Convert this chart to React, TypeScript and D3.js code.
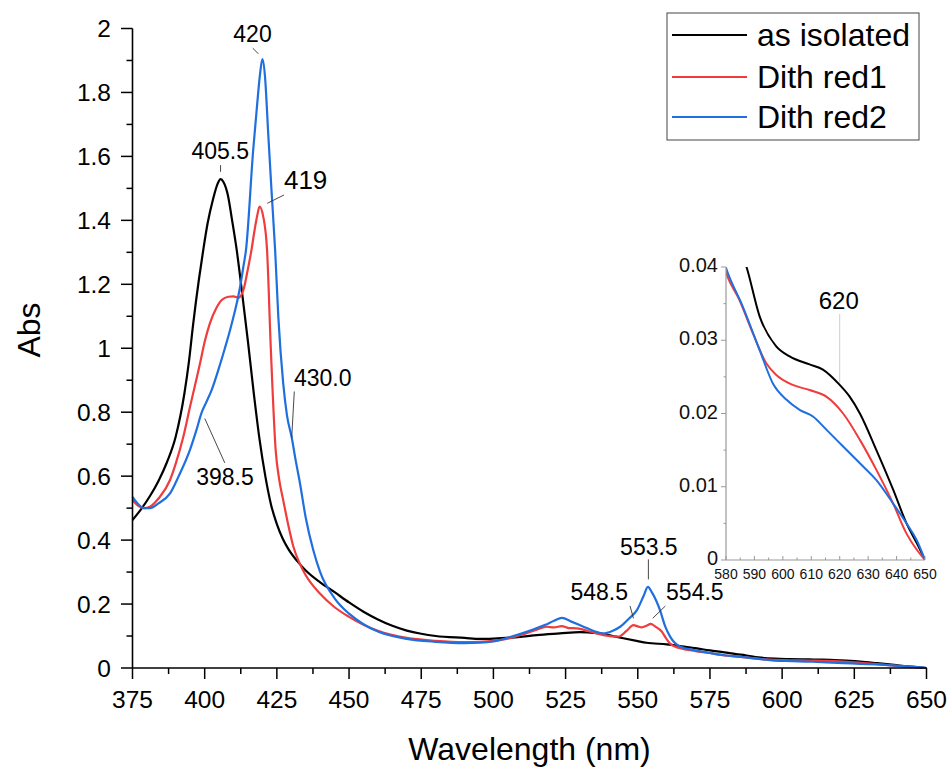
import React from "react";
import * as d3 from "d3";

// ---------- data ----------
const seriesNames = ["as isolated", "Dith red1", "Dith red2"];

const wlIsolated = [375, 378, 381, 384, 387, 390, 393, 394.5, 396, 398, 399.5, 401, 403, 404.5, 405.5, 406.5, 408, 409.5, 411.1, 413, 415, 417, 419, 421, 423, 425, 427, 429, 432, 435, 440, 445, 450, 455, 460, 465, 470, 475, 480, 490, 495.4, 500, 510, 515, 523, 530, 535, 539.3, 545, 550, 553, 560, 570, 575, 580, 584, 587.3, 591.8, 597.6, 602.4, 609.4, 614.1, 620, 623.5, 627.1, 632.9, 638.8, 643.5, 647.1, 650];
const absIsolated = [0.463, 0.497, 0.537, 0.585, 0.645, 0.725, 0.86, 0.955, 1.075, 1.215, 1.307, 1.39, 1.47, 1.515, 1.529, 1.52, 1.48, 1.4, 1.307, 1.17, 1.02, 0.86, 0.715, 0.6, 0.51, 0.45, 0.405, 0.372, 0.335, 0.305, 0.268, 0.237, 0.205, 0.176, 0.152, 0.132, 0.117, 0.107, 0.1, 0.094, 0.091, 0.092, 0.098, 0.103, 0.108, 0.112, 0.11, 0.104, 0.093, 0.084, 0.079, 0.074, 0.062, 0.055, 0.049, 0.0435, 0.0399, 0.0333, 0.0292, 0.0278, 0.0267, 0.026, 0.0239, 0.0223, 0.02, 0.015, 0.0096, 0.005, 0.0023, 0];

const wlRed1 = [375, 377, 379, 381, 384, 388, 390, 392.6, 395, 398.4, 400, 401.8, 404, 405.9, 408.2, 410, 411.6, 413.4, 414.8, 416.2, 417.2, 418.2, 419, 420.3, 421.6, 422.9, 424.6, 425.8, 427.2, 429, 430.7, 433, 435, 440, 445, 450, 455, 460, 470, 480, 490, 495, 500, 505, 510, 515, 518.5, 521, 523.7, 526, 528.9, 533, 538.1, 543.3, 546, 548.5, 550, 551.4, 553, 554.5, 556, 558.3, 560, 561.7, 564.6, 570, 575, 580, 584.7, 589.4, 594.1, 597.6, 603.5, 609.4, 615.3, 621.2, 627.1, 632.9, 638.8, 643.5, 647.1, 650];
const absRed1 = [0.525, 0.507, 0.5, 0.504, 0.53, 0.588, 0.64, 0.723, 0.82, 0.953, 1.02, 1.078, 1.125, 1.151, 1.161, 1.162, 1.158, 1.182, 1.24, 1.307, 1.365, 1.415, 1.443, 1.411, 1.307, 1.0, 0.68, 0.59, 0.525, 0.445, 0.38, 0.325, 0.29, 0.232, 0.19, 0.16, 0.135, 0.116, 0.094, 0.085, 0.081, 0.082, 0.085, 0.092, 0.105, 0.12, 0.129, 0.127, 0.131, 0.125, 0.124, 0.115, 0.103, 0.098, 0.115, 0.134, 0.13, 0.127, 0.132, 0.138, 0.13, 0.114, 0.09, 0.072, 0.062, 0.053, 0.047, 0.0392, 0.0355, 0.031, 0.0269, 0.0253, 0.0239, 0.0232, 0.0223, 0.02, 0.0164, 0.0123, 0.0077, 0.0036, 0.0014, 0];

const wlRed2 = [375, 377, 379, 381, 384, 388, 391, 394.9, 397, 399, 400.5, 402.4, 405, 407, 408.8, 410.3, 411.6, 412.6, 413.4, 414.3, 416.8, 418, 419.2, 420, 420.9, 422, 423.2, 424.4, 425.5, 427.2, 428.5, 430.1, 431.5, 433, 435, 437.6, 440, 445, 450, 455, 460, 470, 480, 490, 495.4, 500, 506.9, 512, 518, 521, 523.7, 527, 531, 535, 538.1, 541, 543.9, 547, 549.7, 552, 553.5, 555, 557.7, 559.5, 561.2, 564.6, 570, 575, 580, 585.9, 591.8, 596.5, 601.2, 605.9, 610.6, 615.3, 621.2, 627.1, 632.9, 638.8, 643.5, 647.1, 650];
const absRed2 = [0.535, 0.512, 0.5, 0.5, 0.515, 0.546, 0.6, 0.682, 0.74, 0.8, 0.83, 0.869, 0.94, 1.0, 1.057, 1.11, 1.161, 1.21, 1.255, 1.307, 1.62, 1.745, 1.86, 1.904, 1.849, 1.672, 1.485, 1.307, 1.099, 0.89, 0.79, 0.723, 0.65, 0.578, 0.47, 0.369, 0.3, 0.218, 0.17, 0.137, 0.114, 0.091, 0.082, 0.078, 0.079, 0.083, 0.1, 0.115, 0.135, 0.148, 0.157, 0.145, 0.13, 0.115, 0.108, 0.115, 0.129, 0.155, 0.181, 0.225, 0.254, 0.235, 0.181, 0.13, 0.098, 0.067, 0.055, 0.047, 0.0399, 0.0346, 0.0287, 0.0241, 0.0219, 0.0205, 0.0196, 0.0178, 0.0155, 0.0132, 0.0109, 0.0077, 0.005, 0.0027, 0];

const xTickValues = [375, 400, 425, 450, 475, 500, 525, 550, 575, 600, 625, 650];
const yTickValues = [0, 0.2, 0.4, 0.6, 0.8, 1, 1.2, 1.4, 1.6, 1.8, 2];
const insetXTicks = [580, 590, 600, 610, 620, 630, 640, 650];
const insetYTicks = [0, 0.01, 0.02, 0.03, 0.04];

// peak annotations: label, wavelength, absorbance
const peakLabels = ["420", "405.5", "419", "430.0", "398.5", "553.5", "548.5", "554.5"];
const peakWl = [420, 405.5, 419.2, 430, 399, 553.5, 548.5, 554.5];
const peakAbs = [1.904, 1.529, 1.443, 0.72, 0.8, 0.254, 0.134, 0.138];
const insetLabel = "620";
const insetLabelWl = 620;
const insetLabelAbs = 0.0239;

// ---------- layout/styles ----------
const W = 950;
const H = 767;
const FONT = "'Liberation Sans', Arial, Helvetica, sans-serif";
const COLORS = ["#000000", "#f03c3c", "#1f6fdf"];

// offsets: [lineX1, lineY1, lineX2, lineY2, textX, textY, anchor, fontSize]
const peakOffsets: [number, number, number, number, number, number, string, number][] = [
  [-9.7, -11, -4, -5.3, -9.9, -17.6, "middle", 23],
  [0, -14, 0, -7.3, -0.3, -19.7, "middle", 23],
  [23.8, -11.6, 7.2, -3.3, 45.5, -17.3, "middle", 26],
  [3, -46.3, 0.4, 0, 2.7, -51.3, "start", 23],
  [3, 6.3, 23, 50.7, 23.2, 73, "middle", 23],
  [0.5, -27.4, 0.5, -7.4, 1, -31.7, "middle", 23],
  [-3.4, -19.2, 0, -6.9, -34.2, -25.2, "middle", 23],
  [14.6, -17.9, 2, -5.6, 44.1, -23.9, "middle", 23],
];

export default function App() {
  const x = d3.scaleLinear().domain([375, 650]).range([132.5, 926.5]);
  const y = d3.scaleLinear().domain([0, 2]).range([668, 28.5]);
  const xi = d3.scaleLinear().domain([580, 650]).range([726, 925]);
  const yi = d3.scaleLinear().domain([0, 0.04]).range([560, 267]);

  const series = [
    { wl: wlIsolated, ab: absIsolated },
    { wl: wlRed1, ab: absRed1 },
    { wl: wlRed2, ab: absRed2 },
  ];

  const mkLine = (sx: any, sy: any) =>
    d3
      .line<[number, number]>()
      .x((d) => sx(d[0]))
      .y((d) => sy(d[1]))
      .curve(d3.curveMonotoneX);

  const mainLine = mkLine(x, y);
  const insetLine = mkLine(xi, yi);

  const pts = (s: { wl: number[]; ab: number[] }) =>
    s.wl.map((w, i) => [w, s.ab[i]] as [number, number]);

  const xMinor = d3.range(375, 650.1, 12.5);
  const yMinor = d3.range(0, 2.001, 0.1);
  const ixMinor = d3.range(580, 650.1, 5);
  const iyMinor = d3.range(0, 0.0401, 0.005);

  const fmtY = (v: number) => String(+v.toFixed(1));
  const fmtYi = (v: number) => (v === 0 ? "0" : v.toFixed(2));

  const legendY = [35, 77, 117];

  return (
    <svg
      width={W}
      height={H}
      style={{ position: "absolute", left: 0, top: 0, background: "#fff" }}
      fontFamily={FONT}
    >
      <defs>
        <clipPath id="insetClip">
          <rect x={xi(580)} y={yi(0.04)} width={xi(650) - xi(580)} height={yi(0) - yi(0.04)} />
        </clipPath>
      </defs>
      <rect x={0} y={0} width={W} height={H} fill="#fff" />

      {/* main curves */}
      {series.map((s, i) => (
        <path key={i} d={mainLine(pts(s)) || ""} fill="none" stroke={COLORS[i]} strokeWidth={2.2} strokeLinejoin="round" />
      ))}

      {/* main axes */}
      <line x1={x(375)} x2={x(650)} y1={y(0)} y2={y(0)} stroke="#000" strokeWidth={1.6} />
      <line x1={x(375)} x2={x(375)} y1={y(0)} y2={y(2)} stroke="#000" strokeWidth={1.6} />
      {xMinor.map((v) => {
        const major = xTickValues.includes(v);
        return <line key={"xm" + v} x1={x(v)} x2={x(v)} y1={y(0)} y2={y(0) + (major ? 11 : 6)} stroke="#000" strokeWidth={1.5} />;
      })}
      {xTickValues.map((v) => (
        <text key={"xl" + v} x={x(v)} y={708} fontSize={24.5} textAnchor="middle" fill="#000">
          {v}
        </text>
      ))}
      {yMinor.map((v, i) => {
        const major = i % 2 === 0;
        return <line key={"ym" + i} x1={x(375)} x2={x(375) - (major ? 11.5 : 6)} y1={y(v)} y2={y(v)} stroke="#000" strokeWidth={1.5} />;
      })}
      {yTickValues.map((v) => (
        <text key={"yl" + v} x={111} y={y(v)} dy="0.35em" fontSize={24.5} textAnchor="end" fill="#000">
          {fmtY(v)}
        </text>
      ))}
      <text x={(x(375) + x(650)) / 2} y={760} fontSize={32} textAnchor="middle" fill="#000">
        Wavelength (nm)
      </text>
      <text transform={`translate(40,330) rotate(-90)`} fontSize={32} textAnchor="middle" fill="#000">
        Abs
      </text>

      {/* peak annotations */}
      {peakLabels.map((lab, i) => {
        const ax = x(peakWl[i]);
        const ay = y(peakAbs[i]);
        const o = peakOffsets[i];
        return (
          <g key={"pk" + i}>
            <line x1={ax + o[0]} y1={ay + o[1]} x2={ax + o[2]} y2={ay + o[3]} stroke="#333" strokeWidth={0.9} />
            <text x={ax + o[4]} y={ay + o[5]} fontSize={o[7]} textAnchor={o[6] as any} fill="#000">
              {lab}
            </text>
          </g>
        );
      })}

      {/* legend */}
      <rect x={667} y={13} width={252} height={127} fill="#fff" stroke="#444" strokeWidth={1} />
      {seriesNames.map((n, i) => (
        <g key={"lg" + i}>
          <line x1={672} x2={747} y1={legendY[i]} y2={legendY[i]} stroke={COLORS[i]} strokeWidth={2.2} />
          <text x={757} y={legendY[i]} dy="0.35em" fontSize={32} fill="#000">
            {n}
          </text>
        </g>
      ))}

      {/* inset */}
      <g clipPath="url(#insetClip)">
        {series.map((s, i) => (
          <path
            key={"in" + i}
            d={insetLine(pts(s).filter((p) => p[0] >= 575)) || ""}
            fill="none"
            stroke={COLORS[i]}
            strokeWidth={2}
            strokeLinejoin="round"
          />
        ))}
      </g>
      <line x1={xi(580)} x2={xi(650)} y1={yi(0)} y2={yi(0)} stroke="#999" strokeWidth={1.2} />
      <line x1={xi(580)} x2={xi(580)} y1={yi(0)} y2={yi(0.04)} stroke="#999" strokeWidth={1.2} />
      {ixMinor.map((v, i) => (
        <line key={"ixm" + i} x1={xi(v)} x2={xi(v)} y1={yi(0)} y2={yi(0) - (i % 2 === 0 ? 4 : 2.5)} stroke="#999" strokeWidth={1} />
      ))}
      {iyMinor.map((v, i) => (
        <line key={"iym" + i} x1={xi(580)} x2={xi(580) - (i % 2 === 0 ? 5 : 2.5)} y1={yi(v)} y2={yi(v)} stroke="#999" strokeWidth={1} />
      ))}
      {insetXTicks.map((v) => (
        <text key={"ixl" + v} x={xi(v)} y={579} fontSize={14} textAnchor="middle" fill="#111">
          {v}
        </text>
      ))}
      {insetYTicks.map((v) => (
        <text key={"iyl" + v} x={xi(580) - 8} y={yi(v) - 2} dy="0.35em" fontSize={20} textAnchor="end" fill="#111">
          {fmtYi(v)}
        </text>
      ))}
      <line
        x1={xi(insetLabelWl)}
        x2={xi(insetLabelWl)}
        y1={yi(insetLabelAbs) - 71}
        y2={yi(insetLabelAbs) - 2}
        stroke="#ccc"
        strokeWidth={1}
      />
      <text x={xi(insetLabelWl) - 1} y={yi(insetLabelAbs) - 75.7} fontSize={24} textAnchor="middle" fill="#000">
        {insetLabel}
      </text>
    </svg>
  );
}
